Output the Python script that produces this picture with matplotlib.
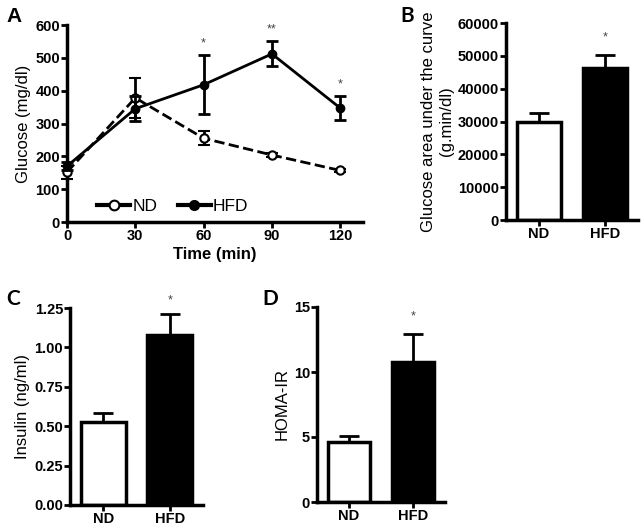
import numpy as np
import matplotlib
matplotlib.use('Agg')
from matplotlib import pyplot as plt
from matplotlib.lines import Line2D

plt.rcParams['font.family'] = ['Liberation Sans', 'DejaVu Sans']

# panel A - glucose tolerance
time_min = [0, 30, 60, 90, 120]
nd_glu = [152, 378, 255, 204, 157]
nd_glu_err = [20, 62, 22, 6, 5]
hfd_glu = [170, 345, 418, 512, 347]
hfd_glu_err = [12, 38, 90, 38, 37]
a_stars = ['', '', '*', '**', '*']

groups = ['ND', 'HFD']
# panel B - area under the curve
auc = [29900, 46300]
auc_err = [2700, 4000]
# panel C - insulin
insulin = [0.527, 1.079]
insulin_err = [0.057, 0.13]
# panel D - HOMA-IR
homa = [4.6, 10.75]
homa_err = [0.5, 2.2]

fig = plt.figure(figsize=(6.43, 5.30), dpi=100)
W, H = 643.0, 530.0

def ax_px(l, r, b, t):
    return fig.add_axes([l / W, 1 - b / H, (r - l) / W, (b - t) / H])

def style(ax):
    for s in ['top', 'right']:
        ax.spines[s].set_visible(False)
    for s in ['left', 'bottom']:
        ax.spines[s].set_linewidth(2.5)
    ax.tick_params(width=2, length=4, labelsize=10.5, pad=1)
    for lab in ax.get_xticklabels() + ax.get_yticklabels():
        lab.set_fontweight('bold')

# A
axA = ax_px(67, 363, 222, 25)
axA.errorbar(time_min, nd_glu, yerr=nd_glu_err, color='black', ls='--', lw=2,
             marker='o', ms=6, mfc='white', mec='black', mew=1.5,
             capsize=4, capthick=2, elinewidth=2, clip_on=False, zorder=3)
axA.errorbar(time_min, hfd_glu, yerr=hfd_glu_err, color='black', ls='-', lw=2,
             marker='o', ms=6, mfc='black', mec='black',
             capsize=4, capthick=2, elinewidth=2, clip_on=False, zorder=4)
for x, y, e, s in zip(time_min, hfd_glu, hfd_glu_err, a_stars):
    if s:
        axA.text(x, y + e + 18, s, ha='center', va='bottom', fontsize=9, color='#444444')
axA.set_xlim(0, 130)
axA.set_ylim(0, 600)
axA.set_xticks(time_min)
axA.set_yticks(range(0, 601, 100))
axA.set_xlabel('Time (min)', fontsize=12, fontweight='bold', labelpad=3)
axA.set_ylabel('Glucose (mg/dl)', fontsize=12, labelpad=3)
style(axA)
handles = [Line2D([], [], color='black', ls='-', lw=3, marker='o', ms=7,
                  mfc='white', mec='black', mew=1.5),
           Line2D([], [], color='black', ls='-', lw=3, marker='o', ms=7,
                  mfc='black', mec='black')]
axA.legend(handles, groups, loc='lower left', bbox_to_anchor=(0.05, -0.04), ncol=2,
           frameon=False, fontsize=12.5, handlelength=1.9, columnspacing=1.2,
           handletextpad=0.1)

def bar_panel(ax, vals, errs, ylim, yticks, fmt, ylabel, star_y):
    x = np.arange(len(groups))
    ax.bar(x, vals, width=0.67, color=['white', 'black'], edgecolor='black', lw=2.5, zorder=2)
    ax.errorbar(x, vals, yerr=[[0, 0], errs], fmt='none', ecolor='black',
                elinewidth=2, capsize=7, capthick=2, zorder=1)
    ax.text(1, star_y, '*', ha='center', va='center', fontsize=9, color='#444444')
    ax.set_xlim(-0.5, 1.5)
    ax.set_ylim(*ylim)
    ax.set_xticks(x)
    ax.set_xticklabels(groups)
    ax.set_yticks(yticks)
    ax.set_yticklabels([fmt(v) for v in yticks])
    ax.set_ylabel(ylabel, fontsize=12, labelpad=3)
    style(ax)

axB = ax_px(506, 638, 220, 23)
bar_panel(axB, auc, auc_err, (0, 60000), list(range(0, 60001, 10000)), lambda v: '%d' % v,
          'Glucose area under the curve\n(g.min/dl)', 55500)
axC = ax_px(70, 203, 505, 308)
bar_panel(axC, insulin, insulin_err, (0, 1.25), [0, 0.25, 0.5, 0.75, 1.0, 1.25],
          lambda v: '%.2f' % v, 'Insulin (ng/ml)', 1.30)
axD = ax_px(317, 445, 502, 307)
bar_panel(axD, homa, homa_err, (0, 15), [0, 5, 10, 15], lambda v: '%d' % v, 'HOMA-IR', 14.3)

fig.text(6 / W, 1 - 16 / H, 'A', fontsize=15, fontweight='bold', va='center')
for lab, x, y in [('B', 400, 16), ('C', 6, 299), ('D', 262, 299)]:
    fig.text(x / W, 1 - y / H, lab, fontsize=15, fontweight='bold', va='center', family='Lato')

fig.savefig('out.png', dpi=100)
